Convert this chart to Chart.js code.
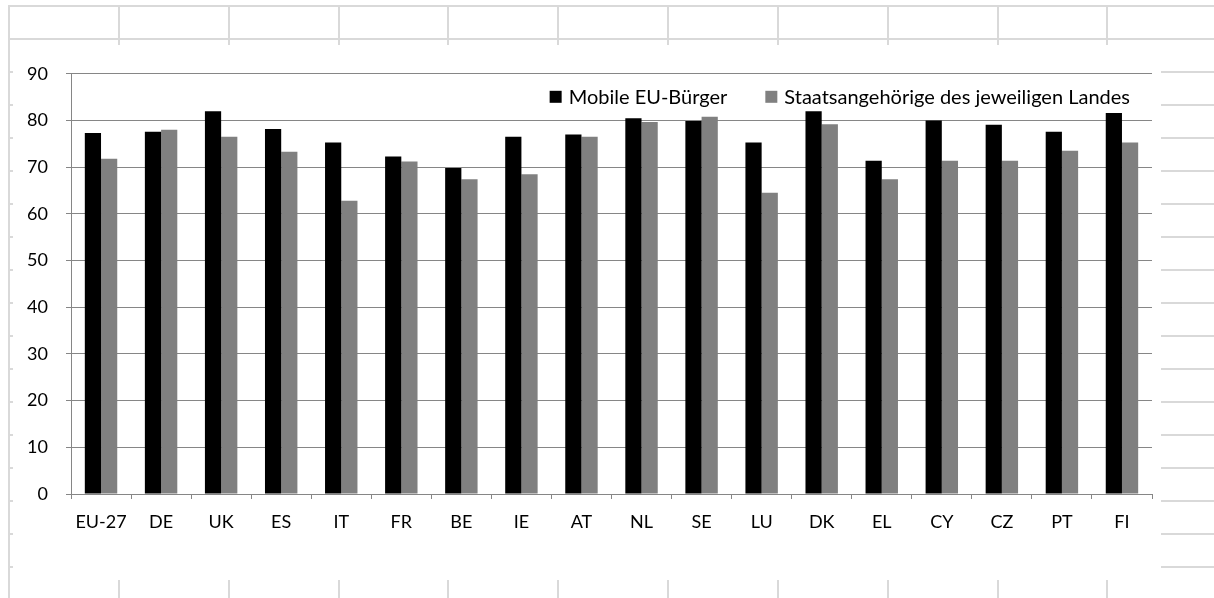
<!DOCTYPE html>
<html>
<head>
<meta charset="utf-8">
<script src="https://cdn.jsdelivr.net/npm/chart.js@4"></script>
<style>
    html, body { margin: 0; padding: 0; background: #fff; }
    body { width: 1214px; height: 598px; position: relative; overflow: hidden; }
    .cell-line { position: absolute; background: #d9d9d9; }
    #chartBox { position: absolute; left: 13px; top: 45px; width: 1148px; height: 535px; background: #fff; }
</style>
</head>
<body>
<div id="chartBox"><canvas id="chart"></canvas></div>
<script>
// ===== DATA =====
const categories = ["EU-27", "DE", "UK", "ES", "IT", "FR", "BE", "IE", "AT", "NL", "SE", "LU", "DK", "EL", "CY", "CZ", "PT", "FI"];
const mobileCitizens = [77.3, 77.6, 82.0, 78.2, 75.3, 72.3, 69.8, 76.5, 77.0, 80.5, 79.9, 75.3, 82.0, 71.4, 80.0, 79.1, 77.6, 81.6];
const nationals = [71.8, 78.0, 76.5, 73.3, 62.8, 71.2, 67.4, 68.5, 76.5, 79.7, 80.8, 64.5, 79.2, 67.4, 71.4, 71.4, 73.5, 75.3];
const seriesLabels = ["Mobile EU-Bürger", "Staatsangehörige des jeweiligen Landes"];
const seriesColors = ["#000000", "#808080"];
const yTicks = [0, 10, 20, 30, 40, 50, 60, 70, 80, 90];

// ===== SPREADSHEET GRID BEHIND THE CHART =====
function drawCells() {
    const cols = [8, 118, 228, 338, 447, 557, 667, 777, 887, 997, 1106];
    cols.forEach((x) => {
        const d = document.createElement("div");
        d.className = "cell-line";
        d.style.left = x + "px";
        d.style.top = "5px";
        d.style.width = "2px";
        d.style.height = "598px";
        document.body.insertBefore(d, document.body.firstChild);
    });
    for (let y = 5; y < 598; y += 33) {
        const d = document.createElement("div");
        d.className = "cell-line";
        d.style.left = "8px";
        d.style.top = y + "px";
        d.style.width = "1206px";
        d.style.height = "2px";
        document.body.insertBefore(d, document.body.firstChild);
    }
}
drawCells();

// ===== LEGEND INSIDE PLOT =====
const insideLegend = {
    id: "insideLegend",
    afterDraw(chart) {
        const ctx = chart.ctx;
        const area = chart.chartArea;
        ctx.save();
        ctx.font = "20px Lato, 'Open Sans', sans-serif";
        ctx.textBaseline = "middle";
        const y = area.top + 23;
        const box = 12;
        const gapText = 7;
        const gapItems = 38;
        const widths = chart.data.datasets.map((ds) => ctx.measureText(ds.label).width);
        let total = 0;
        widths.forEach((w, i) => { total += box + gapText + w + (i ? gapItems : 0); });
        let x = area.right - 22 - total;
        chart.data.datasets.forEach((ds, i) => {
            if (i) x += gapItems;
            ctx.fillStyle = ds.backgroundColor;
            ctx.fillRect(x, y - box / 2, box, box);
            x += box + gapText;
            ctx.fillStyle = "#000";
            ctx.textAlign = "left";
            ctx.fillText(ds.label, x, y + 1);
            x += widths[i];
        });
        ctx.restore();
    },
};

// ===== CHART =====
Chart.defaults.font.family = "Lato, 'Open Sans', sans-serif";
Chart.defaults.color = "#000";

new Chart(document.getElementById("chart"), {
    type: "bar",
    data: {
        labels: categories,
        datasets: [
            {
                label: seriesLabels[0],
                data: mobileCitizens,
                backgroundColor: seriesColors[0],
                categoryPercentage: 0.54,
                barPercentage: 1,
            },
            {
                label: seriesLabels[1],
                data: nationals,
                backgroundColor: seriesColors[1],
                categoryPercentage: 0.54,
                barPercentage: 1,
            },
        ],
    },
    options: {
        responsive: true,
        maintainAspectRatio: false,
        animation: false,
        layout: {
            padding: { top: 25, right: 9, bottom: 0, left: 0 },
        },
        plugins: {
            legend: { display: false },
            tooltip: { enabled: false },
        },
        scales: {
            x: {
                offset: true,
                grid: {
                    display: true,
                    offset: true,
                    drawOnChartArea: false,
                    drawTicks: true,
                    tickLength: 5,
                    color: "#868686",
                },
                border: { display: true, color: "#868686", width: 1 },
                ticks: {
                    font: { size: 18 },
                    color: "#000",
                    padding: 12,
                    maxRotation: 0,
                    autoSkip: false,
                },
                afterFit: (scale) => { scale.height = 86; },
            },
            y: {
                min: 0,
                max: 90,
                afterBuildTicks: (scale) => {
                    scale.ticks = yTicks.map((v) => ({ value: v }));
                },
                grid: {
                    color: "#868686",
                    tickLength: 5,
                },
                border: { display: true, color: "#868686", width: 1 },
                ticks: {
                    font: { size: 18 },
                    color: "#000",
                    padding: 18,
                },
                afterFit: (scale) => { scale.width = 58; },
            },
        },
    },
    plugins: [insideLegend],
});
</script>
</body>
</html>
